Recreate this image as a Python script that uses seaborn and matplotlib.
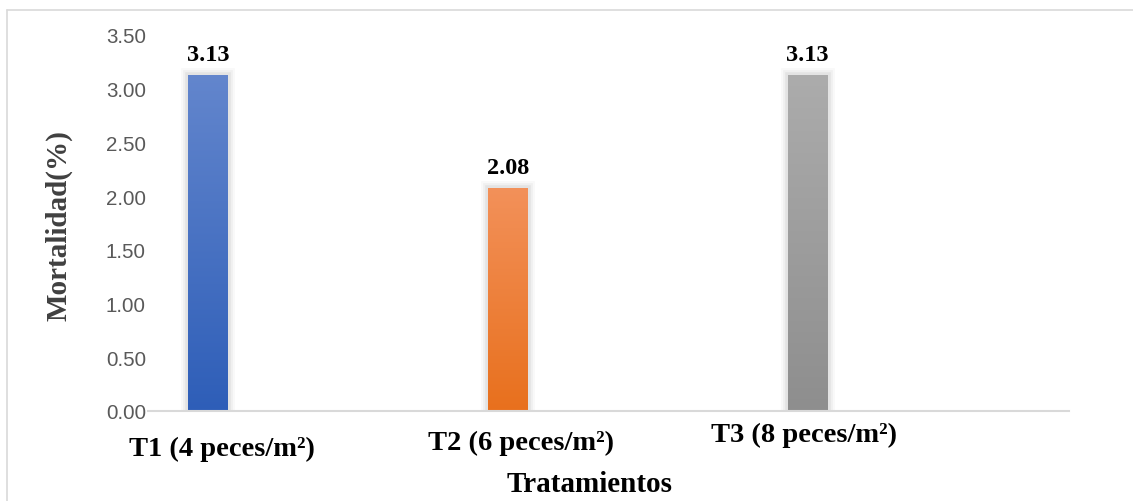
import numpy as np
import matplotlib
matplotlib.use("Agg")
import matplotlib.pyplot as plt
import matplotlib.patheffects as pe
from matplotlib.lines import Line2D
from matplotlib.colors import LinearSegmentedColormap
import seaborn as sns

# Data
tratamientos = ["T1 (4 peces/m²)", "T2 (6 peces/m²)", "T3 (8 peces/m²)"]
mortalidad = [3.13, 2.08, 3.13]
y_ticks = [0.0, 0.5, 1.0, 1.5, 2.0, 2.5, 3.0, 3.5]

# Styling: gradient colours (top, bottom) for each bar
grad_top = ["#6386CD", "#F3915A", "#ACACAC"]
grad_bottom = ["#2E5EB8", "#E8701D", "#8E8E8E"]
flat_colors = ["#4472C4", "#ED7D31", "#A5A5A5"]
# label nudges (points): horizontal, vertical below axis
label_dx = [10.0, 9.5, -2.9]
label_dy = [-31.7, -27.4, -21.6]

sns.set_style("white")
plt.rcParams["font.family"] = ["Liberation Serif", "DejaVu Serif"]

fig = plt.figure(figsize=(11.33, 5.02), dpi=100)
ax = fig.add_axes([0.1306, 0.1793, 0.8129, 0.749])

sns.barplot(x=tratamientos, y=mortalidad, hue=tratamientos,
            palette=flat_colors, width=0.1334, ax=ax, legend=False,
            saturation=1, edgecolor="none", linewidth=0)

xlim = (-0.2002, 2.872)
ylim = (0, 3.5)

# soft shadow + vertical gradient on each bar
for i, patch in enumerate(ax.patches):
    patch.set_path_effects([
        pe.Stroke(linewidth=10, foreground="#000000", alpha=0.025),
        pe.Stroke(linewidth=7, foreground="#000000", alpha=0.035),
        pe.Stroke(linewidth=4, foreground="#000000", alpha=0.05),
        pe.Normal(),
    ])
    x0, w = patch.get_x(), patch.get_width()
    y0, h = patch.get_y(), patch.get_height()
    cmap = LinearSegmentedColormap.from_list(f"g{i}", [grad_bottom[i], grad_top[i]])
    grad = np.linspace(0, 1, 256).reshape(-1, 1)
    im = ax.imshow(grad, cmap=cmap, origin="lower", aspect="auto",
                   extent=[x0, x0 + w, y0, y0 + h], zorder=patch.get_zorder() + 0.1,
                   interpolation="bicubic")
    im.set_clip_path(patch)
    ax.annotate(f"{mortalidad[i]:.2f}", xy=(x0 + w / 2, y0 + h),
                xytext=(0, 10.8), textcoords="offset points",
                ha="center", va="baseline", fontsize=17.5, fontweight="bold",
                color="black")

ax.set_xlim(*xlim)
ax.set_ylim(*ylim)

# y axis
ax.set_yticks(y_ticks)
ax.set_yticklabels([f"{v:.2f}" for v in y_ticks], fontfamily="Liberation Sans",
                   fontsize=14.8, color="#595959")
ax.tick_params(axis="y", length=0, pad=1.5)

# x axis: category labels drawn below the baseline
ax.set_xticks([])
for i, lab in enumerate(tratamientos):
    ax.annotate(lab, xy=(i, 0), xycoords=("data", "axes fraction"),
                xytext=(label_dx[i], label_dy[i]), textcoords="offset points",
                ha="center", va="baseline", fontsize=20.5, fontweight="bold",
                color="black", annotation_clip=False)

for s in ["top", "right", "left"]:
    ax.spines[s].set_visible(False)
ax.spines["bottom"].set_color("#D9D9D9")
ax.spines["bottom"].set_linewidth(1.5)

ax.set_xlabel("Tratamientos", fontsize=21, fontweight="bold", color="black")
ax.xaxis.label.set_va("baseline")
ax.xaxis.set_label_coords(0.48, -0.2128)
ax.set_ylabel("Mortalidad(%)", fontsize=21, fontweight="bold", color="#404040")
ax.yaxis.label.set_va("center")
ax.yaxis.set_label_coords(-0.0966, 0.497)

# chart frame (top and left edges)
W, H = 1133, 502
fig.add_artist(Line2D([7 / W, 1.0], [1 - 10.5 / H, 1 - 10.5 / H],
                      transform=fig.transFigure, color="#D9D9D9", lw=1.2))
fig.add_artist(Line2D([7 / W, 7 / W], [0.0, 1 - 10.5 / H],
                      transform=fig.transFigure, color="#D9D9D9", lw=1.2))

fig.savefig("out.png", dpi=100)
